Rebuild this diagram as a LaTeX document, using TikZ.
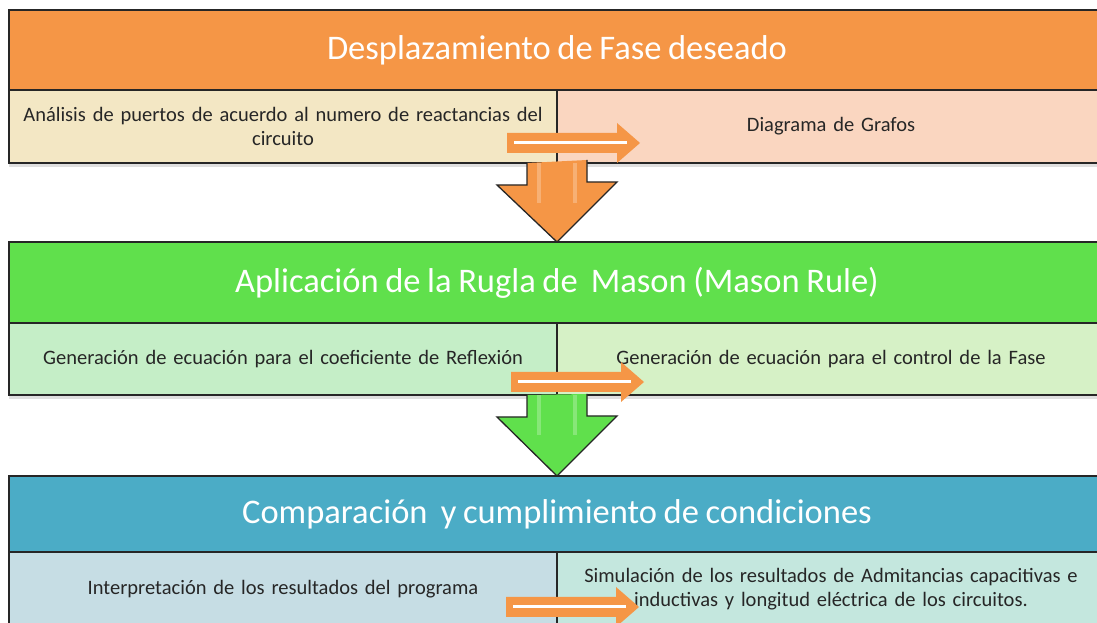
\documentclass[tikz,border=0pt]{standalone}
\usepackage{fontspec}
\setmainfont{Carlito}[WordSpace=0.85]
\usetikzlibrary{positioning, calc, shadows}
\definecolor{orangeA}{RGB}{245,150,70}
\definecolor{greenA}{RGB}{96,224,76}
\definecolor{blueA}{RGB}{75,172,198}
\definecolor{yellowC}{RGB}{243,231,196}
\definecolor{peachC}{RGB}{250,214,192}
\definecolor{mintC}{RGB}{197,238,199}
\definecolor{limeC}{RGB}{214,241,198}
\definecolor{greyblueC}{RGB}{198,221,228}
\definecolor{tealC}{RGB}{196,231,222}
\tikzset{
  header/.style={
    rectangle,
    draw=black!85,
    line width=1.3pt,
    outer sep=0pt,
    inner sep=0pt,
    minimum width=1096pt,
    minimum height=80pt,
    text=white,
    font=\fontsize{34.5}{40}\selectfont
  },
  cell/.style={
    rectangle,
    draw=black!85,
    line width=1.3pt,
    outer sep=0pt,
    inner sep=0pt,
    minimum width=548pt,
    minimum height=73pt,
    text width=546pt,
    align=center,
    text=black!85,
    font=\fontsize{20.5}{24}\selectfont,
    drop shadow={shadow xshift=0pt, shadow yshift=-4pt, opacity=0.25}
  },
  blockarrow/.style={draw=black!85, line width=1.3pt, line join=miter},
  gloss/.style={fill=white, opacity=0.25},
  sidearrow/.style={fill=orangeA},
  sideline/.style={draw=white, line width=3pt}
}

\begin{document}
\begin{tikzpicture}[x=1pt,y=1pt]
\clip (0,0) rectangle (1097,623);
\fill[white] (0,0) rectangle (1097,623);

% first stage
\node[header, fill=orangeA] (h1) at (557,573) {Desplazamiento de Fase deseado};
\node[cell, fill=yellowC, below right=0pt and 0pt of h1.south west] (l1) {Análisis de puertos de acuerdo al numero de reactancias del\\circuito};
\node[cell, fill=peachC, right=0pt of l1] (r1) {Diagrama de Grafos};

% second stage
\node[header, fill=greenA, minimum height=81pt] (h2) at (557,340.5) {Aplicación de la Rugla de \ Mason (Mason Rule)};
\node[cell, fill=mintC, minimum height=72pt, below right=0pt and 0pt of h2.south west] (l2) {Generación de ecuación para el coeficiente de Reflexión};
\node[cell, fill=limeC, minimum height=72pt, right=0pt of l2] (r2) {Generación de ecuación para el control de la Fase};

% third stage
\node[header, fill=blueA, minimum height=76pt] (h3) at (557,109) {Comparación \ y cumplimiento de condiciones};
\node[cell, fill=greyblueC, minimum height=74pt, below right=0pt and 0pt of h3.south west] (l3) {Interpretación de los resultados del programa};
\node[cell, fill=tealC, minimum height=74pt, right=0pt of l3] (r3) {Simulación de los resultados de Admitancias capacitivas e\\inductivas y longitud eléctrica de los circuitos.};

% stage to stage
\path[blockarrow, fill=orangeA] ($(l1.south east)+(-30,0)$) -- ++(0,-22) -- ++(-30,0) -- (h2.north) -- ++(60,60) -- ++(-30,0) -- ++(0,22);
\fill[gloss] ($(l1.south east)+(-20,0)$) rectangle ++(4,-40);
\fill[gloss] ($(l1.south east)+(16,0)$) rectangle ++(4,-40);
\path[blockarrow, fill=greenA] ($(l2.south east)+(-30,0)$) -- ++(0,-22) -- ++(-30,0) -- (h3.north) -- ++(60,60) -- ++(-30,0) -- ++(0,22);
\fill[gloss] ($(l2.south east)+(-20,0)$) rectangle ++(4,-40);
\fill[gloss] ($(l2.south east)+(16,0)$) rectangle ++(4,-40);

% left to right
\fill[sidearrow] ($(l1.south east)+(-50,30)$) -- ++(110,0) -- ++(0,10) -- ++(23,-20) -- ++(-23,-20) -- ++(0,10) -- ++(-110,0) -- cycle;
\draw[sideline] ($(l1.south east)+(-43,20)$) -- ($(r1.south west)+(70,20)$);
\fill[sidearrow] ($(l2.south east)+(-46,23)$) -- ++(110,0) -- ++(0,10) -- ++(23,-20) -- ++(-23,-20) -- ++(0,10) -- ++(-110,0) -- cycle;
\draw[sideline] ($(l2.south east)+(-39,13)$) -- ($(r2.south west)+(74,13)$);
\fill[sidearrow] ($(l3.south east)+(-51,29)$) -- ++(110,0) -- ++(0,10) -- ++(23,-20) -- ++(-23,-20) -- ++(0,10) -- ++(-110,0) -- cycle;
\draw[sideline] ($(l3.south east)+(-44,19)$) -- ($(r3.south west)+(69,19)$);
\end{tikzpicture}
\end{document}
